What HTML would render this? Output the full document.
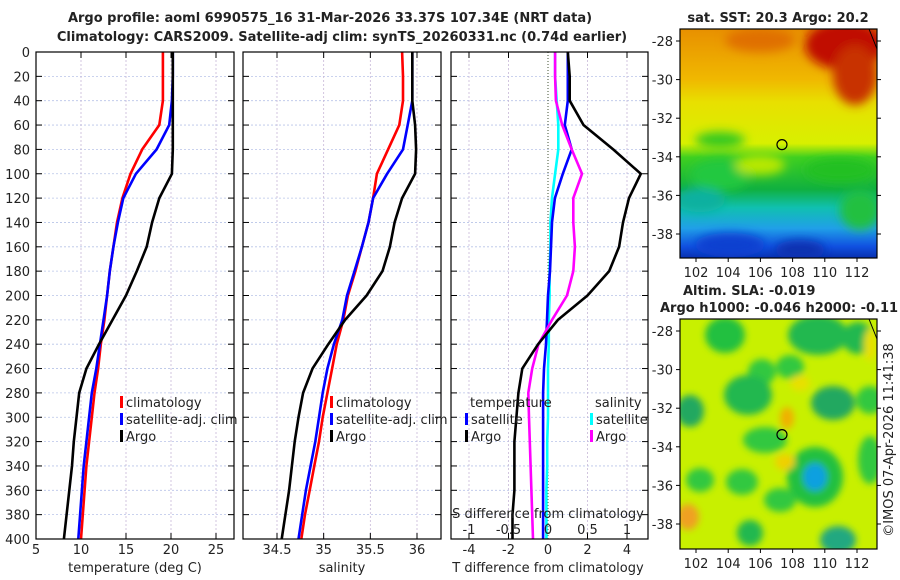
<!DOCTYPE html>
<html><head><meta charset="utf-8">
<style>
body{margin:0;background:#fff;}
svg{display:block;font-family:"DejaVu Sans","Liberation Sans",sans-serif;}
</style></head>
<body>
<svg id="c" width="900" height="580" viewBox="0 0 900 580">
<defs>
<filter id="bl" x="-20%" y="-20%" width="140%" height="140%"><feGaussianBlur stdDeviation="5"/></filter>
<filter id="bl2" x="-50%" y="-50%" width="200%" height="200%"><feGaussianBlur stdDeviation="3.5"/></filter>
<clipPath id="cm1"><rect x="680" y="29" width="197" height="229"/></clipPath>
<clipPath id="cm2"><rect x="680" y="319" width="197" height="230"/></clipPath>
<linearGradient id="sst" x1="0" y1="0" x2="0" y2="1">
<stop offset="0" stop-color="#e89000"/><stop offset="0.22" stop-color="#f0b800"/>
<stop offset="0.32" stop-color="#e8e000"/><stop offset="0.5" stop-color="#d8f000"/>
<stop offset="0.56" stop-color="#40d020"/><stop offset="0.7" stop-color="#10b040"/>
<stop offset="0.78" stop-color="#10c0b0"/><stop offset="0.87" stop-color="#20a0e8"/>
<stop offset="0.95" stop-color="#1050e0"/><stop offset="1" stop-color="#0830b0"/></linearGradient>
</defs>
<g id="plots"></g>
</svg>
<script>
const depths=[0,20,40,60,80,100,120,140,160,180,200,220,240,260,280,300,320,340,360,380,400];
const tempClim=[19.1,19.1,19.1,18.7,16.8,15.5,14.6,14.0,13.6,13.2,12.9,12.6,12.2,11.9,11.5,11.2,10.9,10.6,10.4,10.2,10.0];
const tempSat=[20.2,20.2,20.1,19.8,18.4,16.1,14.7,14.1,13.6,13.2,12.9,12.5,12.1,11.7,11.2,10.9,10.6,10.3,10.1,9.9,9.7];
const tempArgo=[20.2,20.2,20.2,20.2,20.2,20.1,18.7,17.9,17.3,16.2,15.0,13.5,12.0,10.6,9.8,9.5,9.2,9.0,8.7,8.4,8.1];
const salClim=[35.84,35.85,35.85,35.81,35.69,35.57,35.53,35.48,35.41,35.34,35.26,35.21,35.14,35.09,35.04,34.99,34.95,34.90,34.85,34.80,34.76];
const salSat=[35.95,35.95,35.95,35.90,35.85,35.68,35.53,35.48,35.41,35.33,35.25,35.20,35.11,35.04,34.99,34.95,34.91,34.86,34.81,34.77,34.73];
const salArgo=[35.95,35.95,35.95,35.98,35.99,35.98,35.84,35.76,35.71,35.63,35.46,35.23,35.05,34.88,34.78,34.73,34.69,34.66,34.63,34.59,34.55];
const tDiffSat=[1.0,1.0,1.0,0.85,1.2,0.75,0.35,0.2,0.15,0.1,0.0,-0.05,-0.1,-0.2,-0.25,-0.25,-0.25,-0.25,-0.25,-0.25,-0.25];
const tDiffArgo=[1.0,1.1,1.1,1.8,3.3,4.7,4.1,3.8,3.6,3.1,2.0,0.5,-0.5,-1.3,-1.5,-1.6,-1.7,-1.7,-1.7,-1.8,-1.8];
const sDiffSat=[0.09,0.09,0.11,0.13,0.13,0.09,0.05,0.03,0.03,0.02,0.02,0.01,0.01,0.0,0.0,0.0,-0.01,-0.01,-0.02,-0.02,-0.02];
const sDiffArgo=[0.09,0.09,0.1,0.18,0.3,0.43,0.32,0.32,0.34,0.32,0.24,0.05,-0.12,-0.2,-0.25,-0.24,-0.23,-0.22,-0.21,-0.2,-0.19];
const depthTicks=[0,20,40,60,80,100,120,140,160,180,200,220,240,260,280,300,320,340,360,380,400];
const tempTicks=[5,10,15,20,25];
const salTicks=[34.5,35,35.5,36];
const tdTicks=[-4,-2,0,2,4];
const sdTicks=[-1,-0.5,0,0.5,1];
const latTicks=[-28,-30,-32,-34,-36,-38];
const lonTicks=[102,104,106,108,110,112];

const NS="http://www.w3.org/2000/svg";
const root=document.getElementById('plots');
function mk(tag,attrs,parent){const e=document.createElementNS(NS,tag);for(const k in attrs)e.setAttribute(k,attrs[k]);(parent||root).appendChild(e);return e;}
function txt(x,y,s,anchor,size,weight,parent){const t=mk('text',{x:x,y:y,'text-anchor':anchor||'middle','font-size':size||13,'font-weight':weight||'normal',fill:'#222'},parent);t.textContent=s;return t;}
const Y0=52,Y1=539;
function yD(d){return Y0+(d/400)*(Y1-Y0);}
function lin(d0,d1,p0,p1){return v=>p0+(v-d0)/(d1-d0)*(p1-p0);}
const xT=lin(5,25,36,216), xS=lin(34.5,36,277,417), xTD=lin(-4,4,469,627), xSD=lin(-1,1,469,627);

function panel(x0,x1,name){
  const g=mk('g',{});
  
  
  return g;
}
function grid(g,x0,x1,xs){
  depthTicks.forEach(d=>{const l=mk('line',{x1:x0,x2:x1,y1:yD(d),y2:yD(d),stroke:'#b8c4e8','stroke-width':0.8,'stroke-dasharray':'2,2'},g);
    
    mk('line',{x1:x0,x2:x0+6,y1:yD(d),y2:yD(d),stroke:'#000'},g);mk('line',{x1:x1-6,x2:x1,y1:yD(d),y2:yD(d),stroke:'#000'},g);});
  xs.forEach(x=>{const l=mk('line',{x1:x,x2:x,y1:Y0,y2:Y1,stroke:'#c8b8d8','stroke-width':0.8,'stroke-dasharray':'2,2'},g);
    
    mk('line',{x1:x,x2:x,y1:Y0,y2:Y0+6,stroke:'#000'},g);mk('line',{x1:x,x2:x,y1:Y1-6,y2:Y1,stroke:'#000'},g);});
}
function frame(g,x0,x1){const r=mk('rect',{x:x0,y:Y0,width:x1-x0,height:Y1-Y0,fill:'none',stroke:'#000','stroke-width':1.2},g);}
function series(g,vals,xf,color,name){
  const pts=vals.map((v,i)=>xf(v).toFixed(1)+','+yD(depths[i]).toFixed(1)).join(' ');
  const p=mk('polyline',{points:pts,fill:'none',stroke:color,'stroke-width':2.6,'stroke-linejoin':'round'},g);
  
  
}
function legendEntry(g,x,y,color,label,name){
  const e=mk('g',{},g);
  
  
  mk('rect',{x:x,y:y-11,width:3,height:12,fill:color},e);
  txt(x+6,y,label,'start',13,'normal',e);
}

const t1=txt(330,22,'Argo profile: aoml 6990575_16 31-Mar-2026 33.37S 107.34E (NRT data)','middle',13,'bold');

const t2=txt(342,41,'Climatology: CARS2009. Satellite-adj clim: synTS_20260331.nc (0.74d earlier)','middle',13,'bold');


let g=panel(36,234,'temperature-panel');
grid(g,36,234,tempTicks.map(xT));
series(g,tempClim,xT,'#ff0000','temp-climatology-line');
series(g,tempSat,xT,'#0000ff','temp-satellite-line');
series(g,tempArgo,xT,'#000000','temp-argo-line');
frame(g,36,234);
depthTicks.forEach(d=>txt(30,yD(d)+5,String(d),'end',13));
tempTicks.forEach(v=>txt(xT(v),554,String(v)));
let at=txt(135,572,'temperature (deg C)');
legendEntry(g,120,407,'#ff0000','climatology','legend-climatology');
legendEntry(g,120,424,'#0000ff','satellite-adj. clim','legend-satellite');
legendEntry(g,120,441,'#000000','Argo','legend-argo');

g=panel(243,441,'salinity-panel');
grid(g,243,441,salTicks.map(xS));
series(g,salClim,xS,'#ff0000','sal-climatology-line');
series(g,salSat,xS,'#0000ff','sal-satellite-line');
series(g,salArgo,xS,'#000000','sal-argo-line');
frame(g,243,441);
salTicks.forEach(v=>txt(xS(v),554,String(v)));
at=txt(342,572,'salinity');
legendEntry(g,330,407,'#ff0000','climatology','legend-climatology');
legendEntry(g,330,424,'#0000ff','satellite-adj. clim','legend-satellite');
legendEntry(g,330,441,'#000000','Argo','legend-argo');

g=panel(451,648,'difference-panel');
grid(g,451,648,tdTicks.map(xTD).filter(x=>Math.abs(x-548)>1));
const z=mk('line',{x1:xTD(0),x2:xTD(0),y1:Y0,y2:Y1,stroke:'#405030','stroke-width':1,'stroke-dasharray':'1,2'},g);

series(g,sDiffSat,xSD,'#00ffff','sdiff-satellite-line');
series(g,tDiffSat,xTD,'#0000ff','tdiff-satellite-line');
series(g,sDiffArgo,xSD,'#ff00ff','sdiff-argo-line');
series(g,tDiffArgo,xTD,'#000000','tdiff-argo-line');
frame(g,451,648);
tdTicks.forEach(v=>txt(xTD(v),554,String(v)));
sdTicks.forEach(v=>txt(xSD(v),534,String(v)));
at=txt(548,518,'S difference from climatology');
at=txt(548,572,'T difference from climatology');
txt(470,407,'temperature','start');
legendEntry(g,465,424,'#0000ff','satellite','legend-t-satellite');
legendEntry(g,465,441,'#000000','Argo','legend-t-argo');
txt(595,407,'salinity','start');
legendEntry(g,590,424,'#00ffff','satellite','legend-s-satellite');
legendEntry(g,590,441,'#ff00ff','Argo','legend-s-argo');

function mapAxes(g,top,bottom,lat28){
  const lx=lin(102,112,696,857), ly=lin(-28,-38,lat28,lat28+193);
  mk('rect',{x:680,y:top,width:197,height:bottom-top,fill:'none',stroke:'#000','stroke-width':1.2},g);
  latTicks.forEach(v=>{mk('line',{x1:676,x2:680,y1:ly(v),y2:ly(v),stroke:'#000'},g);mk('line',{x1:877,x2:881,y1:ly(v),y2:ly(v),stroke:'#000'},g);txt(673,ly(v)+5,String(v),'end',13);});
  lonTicks.forEach(v=>{mk('line',{x1:lx(v),x2:lx(v),y1:bottom,y2:bottom+4,stroke:'#000'},g);txt(lx(v),bottom+19,String(v));});
  mk('line',{x1:869,x2:877,y1:top,y2:top+20,stroke:'#000','stroke-width':1},g);
  const c=mk('circle',{cx:lx(107.34),cy:ly(-33.37),r:5,fill:'none',stroke:'#000','stroke-width':1.2},g);
  
}
let m=mk('g',{});

let cg=mk('g',{'clip-path':'url(#cm1)'},m);
mk('rect',{x:680,y:29,width:197,height:229,fill:'url(#sst)'},cg);
let bg=mk('g',{filter:'url(#bl)'},cg);
[[845,45,40,25,'#c01000'],[855,75,22,30,'#c83000'],[760,40,35,12,'#e07000'],[720,175,30,16,'#20c840'],[840,170,35,12,'#20c020'],[860,210,20,20,'#20c040'],[760,165,25,10,'#b8e800'],[730,245,35,12,'#1040d0'],[800,250,25,10,'#1030b0'],[720,140,25,8,'#30c820'],[700,200,25,12,'#10b0a0']].forEach(b=>mk('ellipse',{cx:b[0],cy:b[1],rx:b[2],ry:b[3],fill:b[4]},bg));
mapAxes(m,29,258,41);
txt(778,22,'sat. SST: 20.3 Argo: 20.2','middle',13,'bold',m);

m=mk('g',{});

cg=mk('g',{'clip-path':'url(#cm2)'},m);
mk('rect',{x:680,y:319,width:197,height:230,fill:'#c8f000'},cg);
bg=mk('g',{filter:'url(#bl2)'},cg);
[[725,335,20,18,'#20c040'],[762,372,14,13,'#30c840'],[748,395,24,20,'#20b850'],[790,367,14,12,'#30c840'],[818,335,30,20,'#20b850'],[858,338,16,16,'#20b850'],[833,403,22,17,'#20a860'],[870,400,14,14,'#30c840'],[690,411,14,16,'#20a860'],[765,440,22,13,'#30c840'],[742,482,16,13,'#30c840'],[700,480,14,12,'#30c840'],[815,477,28,30,'#20c040'],[815,477,12,14,'#10a0e0'],[870,460,12,24,'#30c840'],[780,500,16,12,'#30c840'],[838,540,18,14,'#20a880'],[750,533,13,13,'#20b850'],[787,418,7,11,'#f0b000'],[688,517,11,13,'#f0a020'],[800,383,10,8,'#e8e000'],[785,462,10,8,'#f0d000'],[870,345,6,16,'#e8e000']].forEach(b=>mk('ellipse',{cx:b[0],cy:b[1],rx:b[2],ry:b[3],fill:b[4]},bg));
mapAxes(m,319,549,331);
txt(683,295,'Altim. SLA: -0.019','start',13,'bold',m);
txt(660,312,'Argo h1000: -0.046 h2000: -0.11','start',13,'bold',m);
const cp=txt(893,440,'©IMOS 07-Apr-2026 11:41:38','middle',13);
cp.setAttribute('transform','rotate(-90 893 440)');

</script>
</body></html>
